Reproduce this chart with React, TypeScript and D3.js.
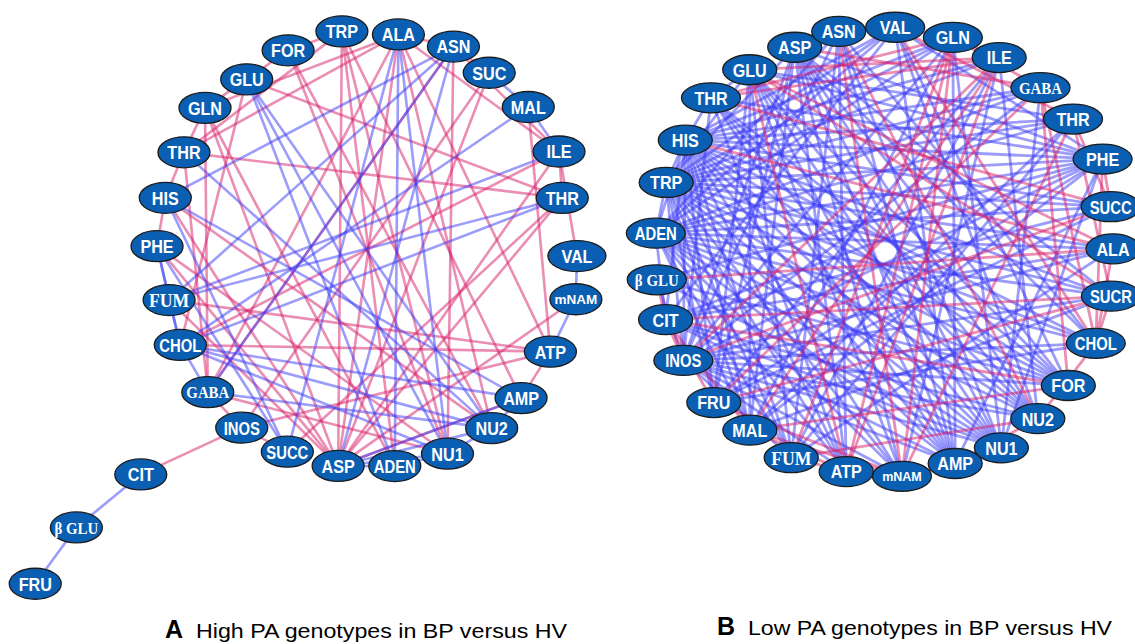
import React from "react";
import * as d3 from "d3";

// ---------- Network A: High PA genotypes ----------
const nodesA = ["FOR","TRP","ALA","ASN","SUC","MAL","ILE","THR#2","VAL","mNAM","ATP","AMP","NU2","NU1","ADEN","ASP","SUCC","INOS","GABA","CHOL","FUM","PHE","HIS","THR","GLN","GLU","CIT","β GLU","FRU"];
const anglesA = [-22.3,-6.8,8.6,23.8,35.6,49.5,63.7,75.6,91.6,102.8,118.1,132.8,144,157.7,172.4,187.9,202.3,216.2,229.3,243.9,256.3,271,284,297.2,310.2,323.8,226.3,227.4,225.9];
const radiiA = [0.99,1.01,1,1.02,1,1.01,1.02,0.96,1,1.02,0.99,1,1.01,1.01,1,1,1,1.01,1,0.99,0.97,1,0.99,0.98,1.01,0.97,1.49,1.88,2.2];

const positiveA = [
  "GLU-FOR","FOR-TRP","GLU-GLN","GLN-THR","THR-HIS","HIS-PHE","GABA-INOS","INOS-SUCC","CIT-INOS","ALA-ASN","ILE-THR#2","ILE-VAL","ATP-AMP","ASN-SUC",
  "GLN-GABA","THR-GABA","HIS-ASP","PHE-ASP","GLN-ASP","GLU-CHOL",
  "TRP-ASP","TRP-NU1","TRP-ADEN","TRP-AMP","TRP-THR",
  "ALA-GLN","ALA-THR","ALA-NU2","ALA-ATP","ALA-ILE","ALA-ASP",
  "ASN-ILE","ASN-NU1","SUC-ASP","SUC-INOS","FOR-NU1","FOR-NU2",
  "THR-THR#2","THR#2-ASP","THR#2-SUCC","ILE-ASP","ATP-FUM","ATP-CHOL","ATP-INOS","MAL-ATP",
  "GABA-ALA","GABA-ASN","PHE-NU1","GLN-ADEN","HIS-NU2","CHOL-ILE","FUM-ASP","mNAM-ASP","AMP-ASP","NU1-GABA","GLU-THR#2"
];
const negativeA = [
  "PHE-FUM","FUM-CHOL","CHOL-GABA","CIT-β GLU","β GLU-FRU","SUC-MAL","MAL-ILE","VAL-mNAM","mNAM-ATP","ASP-ADEN","ADEN-NU1","NU1-NU2","NU2-AMP","PHE-CHOL",
  "GLU-NU1","GLU-NU2","GLU-ADEN","ALA-ADEN","ALA-NU1","ASN-GABA","ASN-FUM","ASN-ASP","MAL-CHOL","ILE-FUM","THR#2-CHOL","THR#2-FUM",
  "CHOL-AMP","CHOL-NU2","CHOL-NU1","HIS-AMP","HIS-ASN","SUCC-HIS","SUCC-ALA","ASP-NU2","ASP-AMP","PHE-SUCC","THR-NU2","GABA-NU2","ASP-NU1"
];

// ---------- Network B: Low PA genotypes ----------
const nodesB = ["ASP","ASN","VAL","GLN","ILE","GABA","THR#2","PHE","SUCC","ALA","SUCR","CHOL","FOR","NU2","NU1","AMP","mNAM","ATP","FUM","MAL","FRU","INOS","CIT","β GLU","ADEN","TRP","HIS","THR","GLU"];
const anglesB = [-23.2,-11.4,2.8,17.5,30.2,43.1,54.4,66.6,78.5,89.2,101.2,113.7,126.4,137.8,149.5,161.7,175.5,189.6,203.9,216.5,228,241.2,252.5,262.9,274.8,288,299.8,312.2,324.1];
const radiiB = [0.99,1,1,1,1,1,1.015,1.04,1.01,1,1.01,1.01,1,1,1.01,0.99,1,0.99,1,0.985,1,1,1,1,1,1,1,1.02,1];

const negativeB = [
  "ASP:NU1,AMP,NU2,FOR,mNAM,ATP,PHE,CHOL,INOS,FRU,MAL,SUCR,TRP",
  "ASN:ATP,AMP,FUM,NU1,INOS,ADEN,CHOL",
  "VAL:ADEN,TRP,HIS,AMP,NU2,FOR,CIT,PHE",
  "GLN:TRP,ADEN,HIS,INOS,NU1,AMP,MAL",
  "ILE:HIS,TRP,FRU,mNAM,NU2,FUM",
  "GABA:TRP,HIS,ADEN,INOS,NU1",
  "THR#2:HIS,TRP,GLU,MAL,ADEN,FUM",
  "PHE:HIS,TRP,ADEN,β GLU,CIT,INOS,FRU,MAL,GLU,THR,AMP,NU1",
  "SUCC:TRP,ADEN,HIS,CIT,FRU",
  "ALA:ADEN,TRP,INOS,CIT,FUM",
  "SUCR:TRP,ADEN,INOS,HIS,MAL",
  "CHOL:TRP,HIS,ADEN,INOS,FRU",
  "FOR:HIS,TRP,ADEN,INOS,β GLU,GLU,THR",
  "NU2:HIS,TRP,ADEN,INOS,CIT,THR,GLU",
  "NU1:HIS,TRP,ADEN,INOS,CIT,β GLU,THR,GLU",
  "AMP:HIS,TRP,ADEN,INOS,CIT,THR,GLU",
  "mNAM:HIS,TRP,ADEN,INOS,GLU",
  "ATP:HIS,TRP,ADEN,INOS,THR",
  "FUM:HIS,TRP,ADEN,INOS,GLU",
  "MAL:HIS,TRP,ADEN,GLU",
  "FRU:HIS,TRP,GLU",
  "INOS:HIS,TRP,β GLU,THR",
  "CIT:ADEN,HIS",
  "ADEN:TRP,HIS",
  "TRP:HIS,GLU",
  "HIS:THR",
  "THR:GLU"
];
const positiveB = [
  "GABA:CHOL,FOR,GLN,ASP,TRP",
  "GLN:mNAM,ATP,FUM,INOS,THR,ILE",
  "ILE:ATP,MAL,THR,GLU",
  "VAL:GLN,THR#2,CHOL",
  "ADEN:PHE,SUCC,NU2,FOR,mNAM",
  "TRP:PHE,SUCC,ILE,NU1",
  "HIS:ALA,SUCR,ATP",
  "CIT:MAL,FRU,INOS,FOR,SUCR,PHE",
  "β GLU:CIT,ALA,NU1",
  "INOS:FUM,SUCC,ILE",
  "FRU:mNAM,SUCR,GABA",
  "MAL:ATP,mNAM,FOR",
  "FUM:ATP,NU2",
  "ATP:mNAM,GLU",
  "mNAM:AMP,THR#2,ASN",
  "AMP:NU2,GLU",
  "NU2:CHOL,ASN",
  "CHOL:SUCR,ALA,PHE",
  "SUCC:PHE,THR#2",
  "THR#2:SUCR",
  "GLU:NU1,SUCR,ALA",
  "THR:SUCC,FOR"
];

const titleA = ["A", "High PA genotypes in BP versus HV"];
const titleB = ["B", "Low PA genotypes in BP versus HV"];

const serifLabels = new Set(["FUM", "GABA", "β GLU"]);

type Edge = { s: string; t: string; pos: boolean };

function pairEdges(list: string[], pos: boolean): Edge[] {
  return list.map((e) => {
    const i = e.indexOf("-");
    return { s: e.slice(0, i), t: e.slice(i + 1), pos };
  });
}
function adjEdges(list: string[], pos: boolean, seen: Set<string>): Edge[] {
  const out: Edge[] = [];
  list.forEach((row) => {
    const [s, rest] = row.split(":");
    rest.split(",").forEach((t) => {
      const k = [s, t].sort().join("|");
      if (!seen.has(k)) {
        seen.add(k);
        out.push({ s, t, pos });
      }
    });
  });
  return out;
}

function labelStyle(label: string, small: number) {
  const serif = "'Liberation Serif', 'DejaVu Serif', serif";
  const sans = "'Liberation Sans', Arial, sans-serif";
  if (label === "mNAM") return { family: sans, size: small, sx: 1 };
  if (serifLabels.has(label)) {
    if (label === "FUM") return { family: serif, size: 19, sx: 0.93 };
    return { family: serif, size: 17.5, sx: 0.85 };
  }
  return { family: sans, size: 19, sx: label.length >= 4 ? 0.78 : 0.85 };
}

function Network(props: {
  ids: string[]; angles: number[]; radii: number[]; edges: Edge[];
  cx: number; cy: number; rx: number; ry: number;
  nodeRx: (label: string) => number; nodeRy: number; edgeOpacity: number; edgeWidth: number; mnamSize: number;
}) {
  const { ids, angles, radii, edges, cx, cy, rx, ry } = props;
  const xs = d3.scaleLinear().domain([-1, 1]).range([cx - rx, cx + rx]);
  const ys = d3.scaleLinear().domain([-1, 1]).range([cy + ry, cy - ry]);
  const rad = d3.scaleLinear().domain([0, 360]).range([0, 2 * Math.PI]);
  const pos = new Map<string, [number, number]>();
  ids.forEach((id, i) => {
    const a = rad(angles[i]);
    pos.set(id, [xs(radii[i] * Math.sin(a)), ys(radii[i] * Math.cos(a))]);
  });
  const line = d3.line();
  return (
    <g>
      <g fill="none" strokeLinecap="round">
        {edges.map((e, i) => {
          const p1 = pos.get(e.s), p2 = pos.get(e.t);
          if (!p1 || !p2) return null;
          return (
            <path key={i} d={line([p1, p2]) || ""}
              stroke={e.pos ? "#d81e6a" : "#3a3af5"}
              strokeOpacity={props.edgeOpacity} strokeWidth={props.edgeWidth} />
          );
        })}
      </g>
      {ids.map((id) => {
        const [x, y] = pos.get(id)!;
        const label = id.replace("#2", "");
        const st = labelStyle(label, props.mnamSize);
        const nrx = props.nodeRx(label);
        return (
          <g key={id} transform={`translate(${x},${y})`}>
            <ellipse rx={nrx} ry={props.nodeRy} fill="#0b5fb2" stroke="#1c1c1c" strokeWidth={1.3} />
            <g transform={`scale(${st.sx},1)`}>
              <text textAnchor="middle" dy="0.36em" fill="#ffffff" fontWeight="bold"
                fontFamily={st.family} fontSize={st.size}>
                {label}
              </text>
            </g>
          </g>
        );
      })}
    </g>
  );
}

export default function App() {
  const edgesA = [...pairEdges(positiveA, true), ...pairEdges(negativeA, false)];
  const seen = new Set<string>();
  const negB = adjEdges(negativeB, false, seen);
  const posB = adjEdges(positiveB, true, seen);
  const edgesB = [...negB, ...posB];
  return (
    <svg width={1135} height={644} style={{ position: "absolute", left: 0, top: 0, background: "#fff" }}>
      <Network ids={nodesA} angles={anglesA} radii={radiiA} edges={edgesA}
        cx={367} cy={250} rx={210} ry={218}
        nodeRx={(l) => (l === "VAL" ? 29 : 26)} nodeRy={15.5} edgeOpacity={0.5} edgeWidth={2.6} mnamSize={13.5} />
      <Network ids={nodesB} angles={anglesB} radii={radiiB} edges={edgesB}
        cx={884} cy={252} rx={229} ry={225}
        nodeRx={(l) => (l.length >= 4 || ["PHE", "VAL", "GLN", "THR"].includes(l) ? 29.5 : 27)} nodeRy={15}
        edgeOpacity={0.5} edgeWidth={2.8} mnamSize={12.5} />
      <g fontFamily="'Liberation Sans', Arial, sans-serif" fill="#000">
        <text x={165} y={638} fontSize={25} fontWeight="bold">{titleA[0]}</text>
        <text x={196} y={638} fontSize={21} textLength={371} lengthAdjust="spacingAndGlyphs">{titleA[1]}</text>
        <text x={717} y={635} fontSize={25} fontWeight="bold">{titleB[0]}</text>
        <text x={748} y={635} fontSize={21} textLength={364} lengthAdjust="spacingAndGlyphs">{titleB[1]}</text>
      </g>
    </svg>
  );
}
